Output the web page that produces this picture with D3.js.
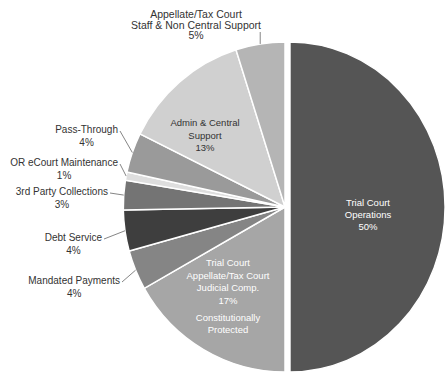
<!DOCTYPE html>
<html>
<head>
<meta charset="utf-8">
<script src="https://cdn.jsdelivr.net/npm/d3@7"></script>
<style>
  body { margin: 0; background: #fff; }
  svg { display: block; font-family: "Liberation Sans", Arial, sans-serif; }
</style>
</head>
<body>
<div id="chart"></div>
<script>
// slices, in drawing order (clockwise from 12 o'clock)
const names = ["Trial Court Operations", "Judicial Comp", "Mandated Payments", "Debt Service",
    "3rd Party Collections", "OR eCourt Maintenance", "Pass-Through",
    "Admin & Central Support", "Appellate/Tax Court Staff & Non Central Support"];
const values = [50, 16.8, 3.9, 4.0, 2.9, 0.8, 3.9, 12.8, 4.9];
const fills = ["#555555", "#a6a6a6", "#858585", "#3e3e3e", "#747474", "#dedede", "#9a9a9a", "#d0d0d0", "#b5b5b5"];

const W = 448, H = 375;
const cx = 285, cy = 207, r = 165;

const svg = d3.select("#chart").append("svg")
    .attr("width", W).attr("height", H);

const pie = d3.pie().sort(null).value(d => d)(values);
const arc = d3.arc().innerRadius(0).outerRadius(r);
const edge = d3.arc().innerRadius(r).outerRadius(r);

const total = d3.sum(values);
const pct = i => Math.round(values[i] / total * 100) + "%";

// exploded main slice is a bit narrower horizontally in the reference
const g = svg.append("g").attr("transform", `translate(${cx},${cy})`);
g.selectAll("path")
  .data(pie)
  .join("path")
    .attr("d", arc)
    .attr("fill", (d, i) => fills[i])
    .attr("stroke", "#fff")
    .attr("stroke-width", 1.5)
    .attr("transform", (d, i) => i === 0 ? "translate(5,0) scale(0.94,1)" : "scale(0.98,1)");

function lines(x, y, arr, color, size, step) {
  const t = svg.append("text")
      .attr("text-anchor", "middle")
      .attr("fill", color)
      .attr("font-size", size);
  arr.forEach((s, k) => {
    t.append("tspan").attr("x", x).attr("y", y + (k * step)).text(s);
  });
  return t;
}

// inside labels
lines(368, 206, ["Trial Court", "Operations", pct(0)], "#fff", 9.5, 12);
lines(228, 266, ["Trial Court", "Appellate/Tax Court", "Judicial Comp.", pct(1)], "#fff", 9.5, 12.5);
lines(228, 321, ["Constitutionally", "Protected"], "#fff", 9.5, 12);
lines(205, 126, ["Admin & Central", "Support", pct(7)], "#333", 9.5, 12.5);

// outside labels with leader lines: [slice index, name right end x, name baseline y]
const outside = [[2, 120, 284], [3, 102, 241], [4, 108, 195], [5, 118, 166], [6, 118, 133]];
outside.forEach(([i, xr, y]) => {
  const t = svg.append("text").attr("x", xr).attr("y", y)
      .attr("text-anchor", "end").attr("font-size", 10).attr("fill", "#333")
      .text(names[i]);
  const len = t.node().getComputedTextLength();
  svg.append("text").attr("x", xr - len / 2).attr("y", y + 12.5)
      .attr("text-anchor", "middle").attr("font-size", 10).attr("fill", "#333")
      .text(pct(i));
  const p = edge.centroid(pie[i]);
  svg.append("line")
      .attr("x1", xr + 2).attr("y1", y - 2)
      .attr("x2", cx + p[0] * 0.98).attr("y2", cy + p[1])
      .attr("stroke", "#666").attr("stroke-width", 0.8);
});

// top label
lines(196, 18, ["Appellate/Tax Court", "Staff & Non Central Support", pct(8)], "#333", 10.5, 10.5);
const pa = edge.centroid(pie[8]);
svg.append("line")
    .attr("x1", cx + pa[0] * 0.98).attr("y1", 32)
    .attr("x2", cx + pa[0] * 0.98).attr("y2", cy + pa[1])
    .attr("stroke", "#666").attr("stroke-width", 0.8);
</script>
</body>
</html>
